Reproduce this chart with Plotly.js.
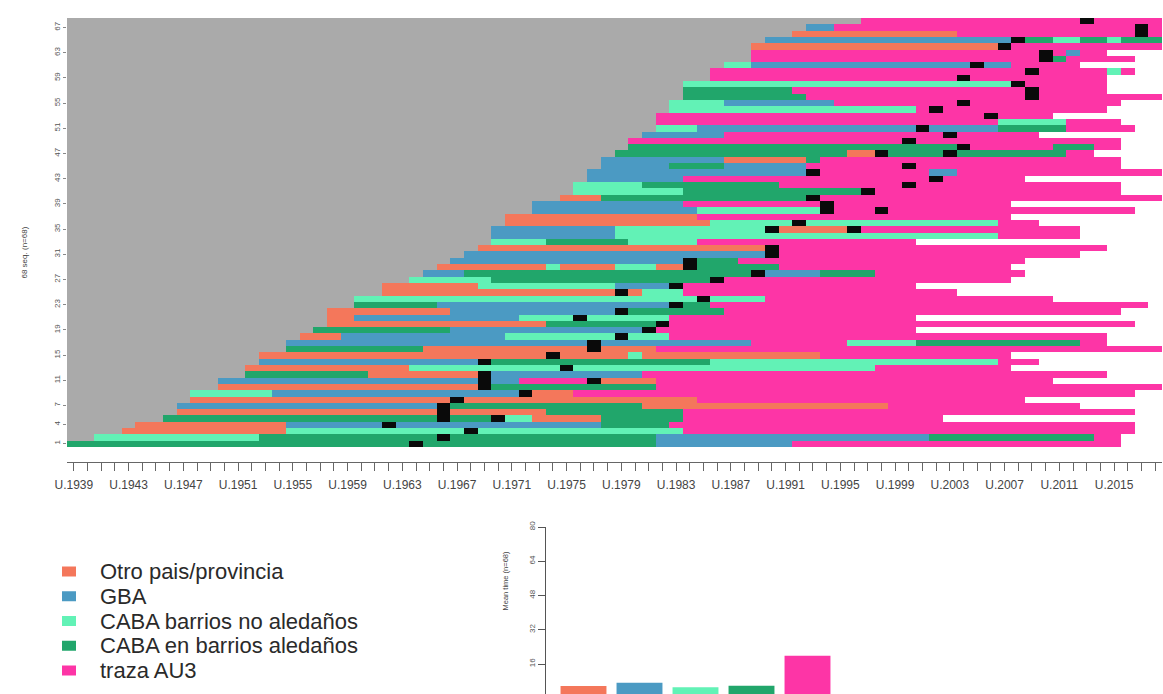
<!DOCTYPE html>
<html><head><meta charset="utf-8">
<script src="https://cdn.plot.ly/plotly-3.0.1.min.js"></script>
<style>html,body{margin:0;padding:0;background:#fff;}#chart{width:1163px;height:694px;}</style>
</head><body><div id="chart"></div>
<script>
// ---- data ----
const firstYear = 1939, lastYear = 2018;
const stateCodes  = ["O", "G", "N", "A", "T"];
const stateLabels = ["Otro pais/provincia", "GBA", "CABA barrios no aledaños", "CABA en barrios aledaños", "traza AU3"];
const stateColors = ["#F4775B", "#4B9AC3", "#62F2B6", "#21A66B", "#FD35A6"];
const missingColor = "#AAAAAA";
const blackColor = "#0A0A0A";
const meanTime = [5.7, 7.3, 5.1, 5.9, 19.9];
const yTickVals = [1, 4, 7, 11, 15, 19, 23, 27, 31, 35, 39, 43, 47, 51, 55, 59, 63, 67];

// first observed year of each sequence (row 1 = bottom)
const seqStart = [
 1939,1941,1943,1944,1946,1947,1947,1948,1948,1950,
 1950,1952,1952,1953,1953,1955,1955,1956,1957,1958,
 1958,1958,1960,1960,1962,1962,1964,1965,1966,1967,
 1968,1969,1970,1970,1970,1971,1971,1973,1973,1975,
 1976,1976,1977,1977,1978,1978,1979,1980,1980,1981,
 1982,1982,1982,1983,1983,1984,1984,1984,1986,1986,
 1987,1989,1989,1989,1990,1992,1993,1997
];
// spells: state code + duration in years (K = black cell)
const seqSpells = [
 "A25 K1 A17 G10 T24",
 "N12 A13 K1 A15 G20 A12 T2",
 "O12 N13 K1 N15 T33",
 "O11 G7 K1 G15 A5 T34",
 "A20 K1 A3 K1 N2 O5 A6 T19",
 "O19 K1 O7 A10 T33",
 "G19 K1 A14 O18 T14",
 "O19 K1 O17 T24",
 "N6 G18 K1 O3 T41",
 "O19 K1 A12 T37",
 "G19 K1 G2 T5 K1 O4 T29",
 "A9 O8 K1 G11 T34",
 "O12 N11 K1 N22 T10",
 "G16 K1 A16 N21 T3",
 "O21 K1 O5 N1 O13 T14",
 "A10 O12 K1 O4 T37",
 "G22 K1 G11 T7 N5 A12 T2",
 "O3 G12 N8 K1 N3 T32",
 "A10 G14 K1 T19",
 "O16 A8 K1 T34",
 "O2 G12 N4 K1 N6 T18",
 "O9 G12 K1 A7 T29",
 "A6 G17 K1 A2 T32",
 "N25 K1 N4 T21",
 "O17 K1 O1 N3 T20",
 "O7 N10 G4 K1 T17",
 "N6 A16 K1 T21",
 "G3 A21 K1 G4 A4 T11",
 "O8 N1 O4 N3 O2 K1 A6 T17",
 "G17 K1 A3 T21",
 "G22 K1 T22",
 "O21 K1 T24",
 "N4 A6 N5 T16",
 "G9 N28 T6",
 "G9 N11 K1 O5 K1 T16",
 "O15 N6 K1 N14 T3",
 "O14 T23",
 "G12 N9 K1 T3 K1 T18",
 "G11 T10 K1 T13",
 "O3 A15 K1 T25",
 "N8 A13 K1 T18",
 "N5 A10 T9 K1 T15",
 "G7 T18 K1 T6",
 "G16 K1 T8 G2 T15",
 "G5 A4 G6 T7 K1 T15",
 "G9 O6 A1 T22",
 "A17 O2 K1 A4 K1 A8 T2",
 "A24 K1 T6 A3 T2",
 "T20 K1 T15",
 "G6 T16 K1 T6",
 "N3 G16 K1 G5 A5 T5",
 "T25 N5 T4",
 "T24 K1 T4",
 "N18 T1 K1 T12",
 "N4 G8 T9 K1 T11",
 "A9 T16 K1 T9",
 "A8 T17 K1 T5",
 "N24 K1 T6",
 "T18 K1 T10",
 "T23 K1 T5 N1 T1",
 "N2 G16 K1 G2 T5",
 "T21 K1 A1 T5",
 "T21 K1 T1 G1 T2",
 "O18 K1 T11",
 "G18 K1 A2 N2 A2 N1 A3",
 "O12 T13 K1 T1",
 "G2 T22 K1 T1",
 "T16 K1 T5"
];

// ---- build matrix ----
const years = [];
for (let y = firstYear; y <= lastYear; y++) years.push(y);
const codeIndex = {O:1, G:2, N:3, A:4, T:5, K:6};
const rows = [], z = [];
seqSpells.forEach((s, i) => {
  rows.push(i + 1);
  const line = years.map(() => null);
  let yr = seqStart[i];
  for (let y = firstYear; y < yr; y++) line[y - firstYear] = 0;
  s.split(" ").forEach(tok => {
    const c = codeIndex[tok[0]], n = parseInt(tok.slice(1), 10);
    for (let k = 0; k < n; k++) { if (yr <= lastYear) line[yr - firstYear] = c; yr++; }
  });
  z.push(line);
});
const allColors = [missingColor].concat(stateColors, [blackColor]);
const cs = [];
allColors.forEach((c, k) => { cs.push([k / 7, c]); cs.push([(k + 1) / 7, c]); });

const xTickText = years.map(y => ((y - firstYear) % 4 === 0) ? "U." + y : "");

const W = 1163, H = 694;
const heat = {
  type: "heatmap", x: years, y: rows, z: z, zmin: -0.5, zmax: 6.5,
  colorscale: cs, showscale: false, hoverinfo: "skip", xaxis: "x", yaxis: "y"
};
const bars = {
  type: "bar", x: [0, 1, 2, 3, 4], y: meanTime, marker: {color: stateColors, line: {width: 0}},
  xaxis: "x2", yaxis: "y2", hoverinfo: "skip", width: 0.82
};

const annotations = [
  {text: "68 seq. (n=68)", x: 17 / W, y: (H - 225) / H, xref: "paper", yref: "paper", showarrow: false,
   textangle: -90, font: {size: 8, color: "#444"}},
  {text: "Mean time (n=68)", x: 505 / W, y: (H - 613) / H, xref: "paper", yref: "paper", showarrow: false,
   textangle: -90, font: {size: 7.5, color: "#444"}}
];
const shapes = [];
const legTop = 571.5, legStep = 24.75;
stateLabels.forEach((lab, k) => {
  const yc = legTop + k * legStep;
  shapes.push({type: "rect", xref: "paper", yref: "paper", x0: 62 / W, x1: 76 / W,
    y0: (H - yc - 5) / H, y1: (H - yc + 5) / H, fillcolor: stateColors[k], line: {width: 0}});
  annotations.push({text: lab, x: 98 / W, y: (H - yc) / H, xref: "paper", yref: "paper",
    xanchor: "left", yanchor: "middle", showarrow: false, font: {size: 22, color: "#2a2a2a"}});
});

const layout = {
  width: W, height: H, margin: {l: 0, r: 0, t: 0, b: 0},
  paper_bgcolor: "#fff", plot_bgcolor: "rgba(0,0,0,0)", showlegend: false,
  font: {family: "Liberation Sans, Arial, sans-serif"},
  xaxis: {domain: [67 / W, 1162 / W], range: [firstYear - 0.5, lastYear + 0.5],
    tickmode: "array", tickvals: years, ticktext: xTickText, ticks: "outside", ticklen: 8,
    tickcolor: "#666", showline: true, linecolor: "#666", linewidth: 1, showgrid: false, zeroline: false,
    tickfont: {size: 12, color: "#444"}, ticklabelstandoff: 4, tickangle: 0, fixedrange: true},
  yaxis: {domain: [(H - 462) / H, (H - 18) / H], range: [-1.96, 68.5],
    tickmode: "array", tickvals: yTickVals, ticks: "outside", ticklen: 3, tickcolor: "#888",
    tickangle: -90, tickfont: {size: 8, color: "#555"}, showline: false, showgrid: false, zeroline: false, fixedrange: true},
  xaxis2: {domain: [555.5 / W, 835.5 / W], range: [-0.5, 4.5], anchor: "y2", visible: false, fixedrange: true},
  yaxis2: {domain: [0, (H - 527) / H], range: [2, 80], anchor: "free", position: 545 / W,
    tickmode: "array", tickvals: [16, 32, 48, 64, 80], ticks: "outside", ticklen: 7, tickcolor: "#555",
    showline: true, linecolor: "#555", linewidth: 1, showgrid: false, zeroline: false,
    tickangle: -90, tickfont: {size: 8, color: "#555"}, fixedrange: true},
  annotations: annotations, shapes: shapes
};
Plotly.newPlot("chart", [heat, bars], layout, {staticPlot: true, displayModeBar: false});
</script></body></html>
